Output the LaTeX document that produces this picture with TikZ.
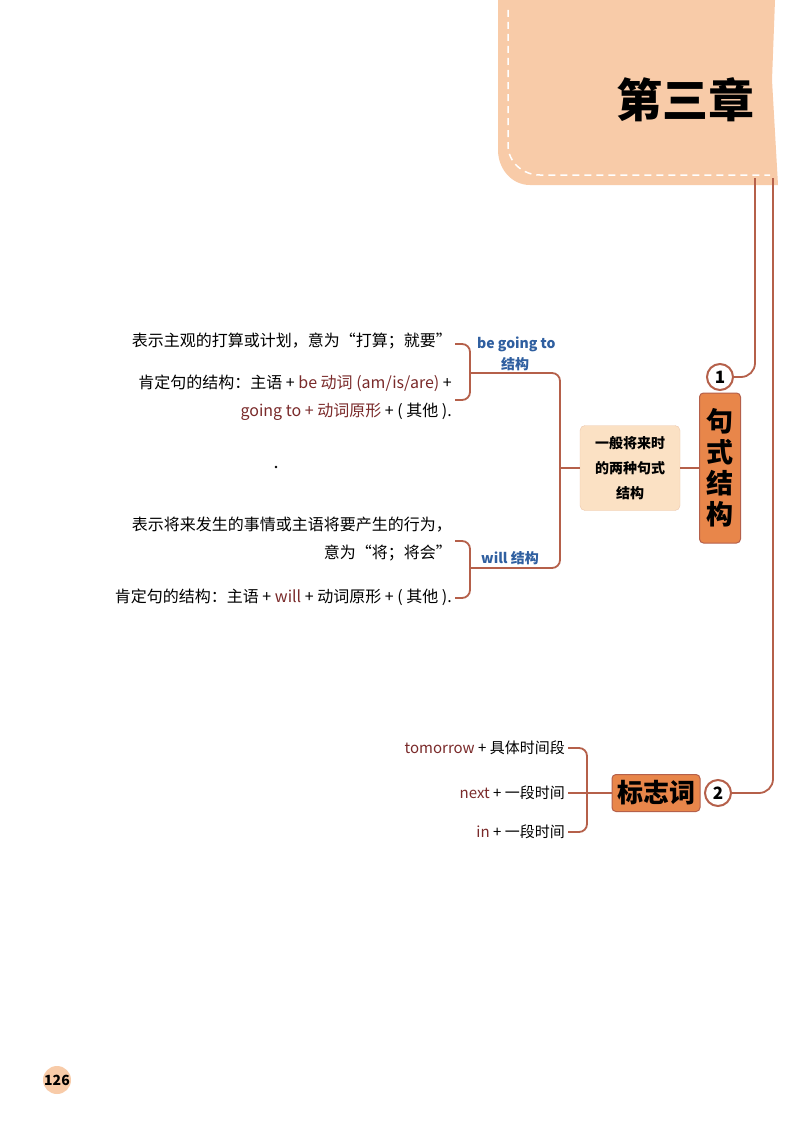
\documentclass[tikz,border=0pt]{standalone}
\usepackage{fontspec}
\setmainfont{Noto Sans CJK SC}
\usetikzlibrary{calc}
\definecolor{ln}{HTML}{B5604A}
\definecolor{peach}{HTML}{F8CBA8}
\definecolor{org}{HTML}{E8864A}
\definecolor{lpeach}{HTML}{FBE1C4}
\definecolor{blu}{HTML}{2F5FA0}
\definecolor{dred}{HTML}{7A2A2A}
\tikzset{
 conn/.style={draw=ln,line width=1.8pt,rounded corners=8pt},
 txt/.style={anchor=east,font=\fontsize{16}{17}\selectfont,inner sep=0pt},
 lbl/.style={font=\fontsize{14}{15}\selectfont\bfseries,text=blu,inner sep=0pt},
 circ/.style={circle,draw=ln,line width=2pt,fill=white,minimum size=26pt,inner sep=0pt,font=\fontsize{17}{17}\selectfont\bfseries},
 obox/.style={draw=ln,fill=org,rounded corners=4pt,line width=1pt,text=black,font=\fontsize{24}{28}\selectfont\bfseries},
}
\begin{document}
\begin{tikzpicture}[x=1pt,y=-1pt]
\useasboundingbox (0,0) rectangle (800,1132);
\fill[white] (0,0) rectangle (800,1132);
% header
\fill[peach] (500,0) -- (775,0) -- (772,80) -- (778,185) -- (530,185) to[out=180,in=-90] (498,150) -- (498,0) -- cycle;
\draw[white,line width=1.5pt,dash pattern=on 7pt off 5pt] (508,10) -- (508,145) to[out=-90,in=180] (540,175) -- (770,175);
\node[font=\fontsize{46}{50}\selectfont\bfseries] (title) at (685,100) {第三章};
% main vertical lines
\node[circ] (c1) at (720,377) {1};
\node[circ] (c2) at (718,793) {2};
\draw[conn,rounded corners=14pt] (755,178) -- (755,377) -- (c1.east);
\draw[conn,rounded corners=14pt] (773,178) -- (773,793) -- (c2.east);
% boxes
\node[obox,minimum width=41pt,minimum height=150pt,align=center,font=\fontsize{27}{31}\selectfont\bfseries] (jsjg) at (720,468) {句\\式\\结\\构};
\node[fill=lpeach,draw=lpeach!80!ln,rounded corners=5pt,minimum width=100pt,minimum height=85pt,align=center,font=\fontsize{14}{25}\selectfont\bfseries] (gen) at (630,468) {一般将来时\\的两种句式\\结构};
\node[obox,minimum width=88pt,minimum height=37pt,font=\fontsize{26}{28}\selectfont\bfseries] (bzc) at (656,793) {标志词};
\draw[conn] (jsjg.west) -- (gen.east);
% bracket from gen
\coordinate (b1) at (470,373);
\coordinate (b2) at (470,568);
\draw[conn] (gen.west) -- (560,468);
\draw[conn] (b1) -- (560,373) -- (560,568) -- (b2);
% upper bracket
\node[lbl,anchor=west] (bg1) at (477,344) {be going to};
\node[lbl] (bg2) at (515,364) {结构};
\node[txt] (t1) at (452,341) {表示主观的打算或计划，意为“打算；就要”};
\node[txt] (t2) at (452,383) {肯定句的结构：主语 + {\color{dred}be 动词 (am/is/are)} +};
\node[txt] (t3) at (452,412) {{\color{dred}going to + 动词原形} + ( 其他 ).};
\draw[conn] (455,344) -- (470,344) -- (470,400) -- (455,400);
% lower bracket
\node[lbl] (wl) at (510,558) {will 结构};
\node[txt] (t4) at (452,525) {表示将来发生的事情或主语将要产生的行为，};
\node[txt] (t5) at (452,553) {意为“将；将会”};
\node[txt] (t6) at (452,597) {肯定句的结构：主语 + {\color{dred}will} + 动词原形 + ( 其他 ).};
\draw[conn] (455,541) -- (470,541) -- (470,598) -- (455,598);
\fill (276,467) circle (1.3pt);
% 标志词 bracket
\node[txt,font=\fontsize{15}{16}\selectfont] (m1) at (565,748) {{\color{dred}tomorrow} + 具体时间段};
\node[txt,font=\fontsize{15}{16}\selectfont] (m2) at (565,793) {{\color{dred}next} + 一段时间};
\node[txt,font=\fontsize{15}{16}\selectfont] (m3) at (565,832) {{\color{dred}in} + 一段时间};
\draw[conn] (568,748) -- (587,748) -- (587,832) -- (568,832);
\draw[conn] (568,793) -- (bzc.west);
% page number
\fill[peach] (57,1080) circle (14pt);
\node[font=\fontsize{14}{14}\selectfont\bfseries] (pg) at (57,1080) {126};
\end{tikzpicture}
\end{document}
